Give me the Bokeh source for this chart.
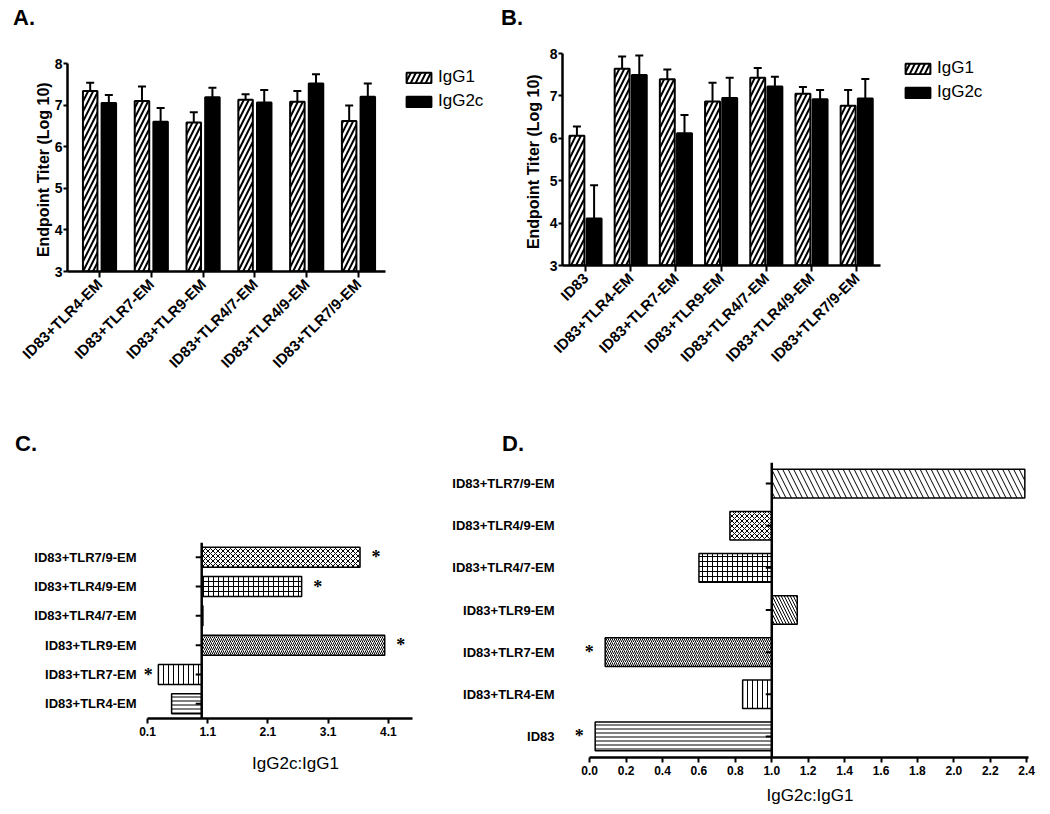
import math
from bokeh.plotting import figure
from bokeh.models import (ColumnDataSource, FactorRange, Range1d, FixedTicker, Legend,
                          LegendItem, LabelSet, Span, NumeralTickFormatter, Div)
from bokeh.transform import dodge
from bokeh.layouts import column, row
from bokeh.core.properties import field
from bokeh.embed import file_html
from bokeh.resources import INLINE

FONT = "Liberation Sans"

# ---------------- data ----------------
a_groups = ["ID83+TLR4-EM", "ID83+TLR7-EM", "ID83+TLR9-EM", "ID83+TLR4/7-EM",
            "ID83+TLR4/9-EM", "ID83+TLR7/9-EM"]
a_igg1 = [7.34, 7.10, 6.58, 7.13, 7.08, 6.62]
a_igg1_err = [0.20, 0.35, 0.25, 0.13, 0.26, 0.37]
a_igg2c = [7.05, 6.60, 7.19, 7.06, 7.52, 7.20]
a_igg2c_err = [0.19, 0.33, 0.23, 0.30, 0.22, 0.32]

b_groups = ["ID83", "ID83+TLR4-EM", "ID83+TLR7-EM", "ID83+TLR9-EM", "ID83+TLR4/7-EM",
            "ID83+TLR4/9-EM", "ID83+TLR7/9-EM"]
b_igg1 = [6.06, 7.64, 7.39, 6.87, 7.43, 7.05, 6.77]
b_igg1_err = [0.22, 0.29, 0.23, 0.44, 0.23, 0.16, 0.37]
b_igg2c = [4.11, 7.49, 6.12, 6.95, 7.22, 6.92, 6.94]
b_igg2c_err = [0.78, 0.46, 0.43, 0.48, 0.23, 0.22, 0.46]

y_ticks = [3, 4, 5, 6, 7, 8]
series_names = ["IgG1", "IgG2c"]

c_groups = ["ID83+TLR4-EM", "ID83+TLR7-EM", "ID83+TLR9-EM", "ID83+TLR4/7-EM",
            "ID83+TLR4/9-EM", "ID83+TLR7/9-EM"]
c_ratio = [0.50, 0.28, 4.04, 1.02, 2.66, 3.63]
c_sig = [False, True, True, False, True, True]
c_ticks = [0.1, 1.1, 2.1, 3.1, 4.1]
c_axis_end = 4.5

d_groups = ["ID83", "ID83+TLR4-EM", "ID83+TLR7-EM", "ID83+TLR9-EM", "ID83+TLR4/7-EM",
            "ID83+TLR4/9-EM", "ID83+TLR7/9-EM"]
d_ratio = [0.03, 0.84, 0.085, 1.14, 0.60, 0.77, 2.39]
d_sig = [True, False, True, False, False, False, False]
d_ticks = [0.0, 0.2, 0.4, 0.6, 0.8, 1.0, 1.2, 1.4, 1.6, 1.8, 2.0, 2.2, 2.4]
d_axis_end = 2.41

ratio_base = 1.0

# ---------------- styles ----------------
c_hatch = ["-", "|", "/", "+", "+", "x"]
c_hatch_scale = [4, 5, 4, 5, 5, 5]
d_hatch = ["-", "|", "/", "\\", "+", "x", "\\"]
d_hatch_scale = [4, 5, 4, 6, 5, 5, 11]


def style_common(p):
    p.grid.visible = False
    p.outline_line_color = None
    p.background_fill_color = "white"
    p.border_fill_color = "white"


def letter_div(text, width, height, pad_left, pad_top):
    html = ('<div style="padding:%dpx 0 0 %dpx; font-family:\'Liberation Sans\'; '
            'font-size:22px; font-weight:bold; line-height:22px; color:black; '
            'white-space:nowrap;">%s</div>' % (pad_top, pad_left, text))
    return Div(text=html, width=width, height=height, margin=0)


def bar_panel(groups, v1, e1, v2, e2, width, height, mb, xr, axis_bounds, off, bw, leg_xy,
              ylabel, title_standoff):
    xs = list(range(len(groups)))
    src = ColumnDataSource(dict(
        x=xs, v1=v1, u1=[a + b for a, b in zip(v1, e1)],
        v2=v2, u2=[a + b for a, b in zip(v2, e2)]))
    p = figure(x_range=Range1d(*xr), y_range=Range1d(y_ticks[0], y_ticks[-1]),
               width=width, height=height, output_backend="svg", toolbar_location=None,
               min_border_left=mb[0], min_border_right=mb[1], min_border_top=mb[2],
               min_border_bottom=mb[3])
    style_common(p)
    x1 = dodge("x", -off)
    x2 = dodge("x", off)
    r1 = p.vbar(x=x1, top="v1", bottom=y_ticks[0], width=bw, source=src,
                fill_color="white", line_color="black", line_width=2,
                hatch_pattern="/", hatch_scale=10, hatch_weight=2, hatch_color="black")
    r2 = p.vbar(x=x2, top="v2", bottom=y_ticks[0], width=bw, source=src,
                fill_color="black", line_color="black", line_width=2)
    for xx, lo, hi in ((x1, "v1", "u1"), (x2, "v2", "u2")):
        p.segment(x0=xx, y0=lo, x1=xx, y1=hi, source=src, line_color="black", line_width=2)
        p.scatter(x=xx, y=hi, marker="dash", size=8, source=src, line_color="black",
                  line_width=2)
    p.yaxis.ticker = FixedTicker(ticks=y_ticks)
    p.xaxis.ticker = FixedTicker(ticks=xs)
    p.xaxis.major_label_overrides = {i: g for i, g in zip(xs, groups)}
    p.xaxis.bounds = axis_bounds
    for ax in (p.xaxis[0], p.yaxis[0]):
        ax.axis_line_width = 2.5
        ax.axis_line_color = "black"
        ax.major_tick_line_width = 2
        ax.major_tick_line_color = "black"
        ax.minor_tick_line_color = None
        ax.major_tick_in = 0
        ax.major_label_text_font = FONT
        ax.major_label_text_font_style = "bold"
        ax.major_label_text_color = "black"
    p.yaxis.major_tick_out = 4
    p.yaxis.major_label_standoff = 1
    p.yaxis.major_label_text_font_size = "14px"
    p.xaxis.major_tick_out = 6
    p.xaxis.major_label_text_font_size = "15px"
    p.xaxis.major_label_orientation = math.pi / 4
    p.xaxis.major_label_standoff = 4
    p.yaxis.axis_label = ylabel
    p.yaxis.axis_label_text_font = FONT
    p.yaxis.axis_label_text_font_size = "16px"
    p.yaxis.axis_label_text_font_style = "bold"
    p.yaxis.axis_label_text_color = "black"
    p.yaxis.axis_label_standoff = title_standoff
    legend = Legend(items=[LegendItem(label=series_names[0], renderers=[r1]),
                           LegendItem(label=series_names[1], renderers=[r2])],
                    location=leg_xy, border_line_color=None, background_fill_alpha=0,
                    padding=0, margin=0, spacing=4, glyph_width=31, glyph_height=13,
                    label_height=20, label_standoff=4, label_text_font=FONT,
                    label_text_font_size="17px", label_text_color="black")
    p.add_layout(legend, "center")
    return p


def ratio_panel(groups, ratios, sig, hatches, scales, xr, ticks, axis_bounds, width, height,
                mb, label_standoff, star_offsets, title_standoff):
    src = ColumnDataSource(dict(g=groups, r=ratios, hatch=hatches, hs=scales))
    p = figure(y_range=FactorRange(*groups), x_range=Range1d(*xr),
               width=width, height=height, output_backend="svg", toolbar_location=None,
               min_border_left=mb[0], min_border_right=mb[1], min_border_top=mb[2],
               min_border_bottom=mb[3])
    style_common(p)
    p.hbar(y="g", left=ratio_base, right="r", height=0.68, source=src,
           fill_color="white", line_color="black", line_width=1.5,
           hatch_pattern=field("hatch"), hatch_scale=field("hs"), hatch_weight=1,
           hatch_color="black")
    p.add_layout(Span(location=ratio_base, dimension="height", line_color="black",
                      line_width=2.5))
    p.ray(x=[ratio_base] * len(groups), y=groups, length=6, length_units="screen",
          angle=math.pi, line_color="black", line_width=2)
    # significance stars
    sx, sy, so = [], [], []
    for g, r, s in zip(groups, ratios, sig):
        if s:
            sx.append(r)
            sy.append(g)
            so.append(star_offsets[0] if r > ratio_base else star_offsets[1])
    ssrc = ColumnDataSource(dict(x=sx, y=sy, o=so, t=["*"] * len(sx)))
    p.add_layout(LabelSet(x="x", y="y", text="t", x_offset="o", source=ssrc,
                          text_font=FONT, text_font_size="18px", text_font_style="bold",
                          text_align="center", text_baseline="middle", text_color="black"))
    p.xaxis.ticker = FixedTicker(ticks=ticks)
    p.xaxis.formatter = NumeralTickFormatter(format="0.0")
    xa = p.xaxis[0]
    xa.bounds = axis_bounds
    xa.axis_line_width = 2.5
    xa.axis_line_color = "black"
    xa.major_tick_line_width = 2
    xa.major_tick_line_color = "black"
    xa.minor_tick_line_color = None
    xa.major_tick_in = 0
    xa.major_tick_out = 5
    xa.major_label_standoff = 3
    xa.major_label_text_font = FONT
    xa.major_label_text_font_style = "bold"
    xa.major_label_text_font_size = "12px"
    xa.major_label_text_color = "black"
    xa.axis_label = "IgG2c:IgG1"
    xa.axis_label_text_font = FONT
    xa.axis_label_text_font_size = "17px"
    xa.axis_label_text_font_style = "normal"
    xa.axis_label_text_color = "black"
    xa.axis_label_standoff = title_standoff
    ya = p.yaxis[0]
    ya.axis_line_color = None
    ya.major_tick_line_color = None
    ya.minor_tick_line_color = None
    ya.major_tick_in = 0
    ya.major_tick_out = 0
    ya.major_label_standoff = label_standoff
    ya.major_label_text_font = FONT
    ya.major_label_text_font_style = "bold"
    ya.major_label_text_font_size = "13px"
    ya.major_label_text_color = "black"
    return p


pA = bar_panel(a_groups, a_igg1, a_igg1_err, a_igg2c, a_igg2c_err,
               width=490, height=378, mb=(67, 2, 33, 137), xr=(-0.618, 7.51),
               axis_bounds=(-0.618, 5.52), off=0.18, bw=0.28,
               leg_xy=(336, 160), ylabel="Endpoint Titer  (Log 10)", title_standoff=0)
pB = bar_panel(b_groups, b_igg1, b_igg1_err, b_igg2c, b_igg2c_err,
               width=558, height=378, mb=(72, 58, 23, 143), xr=(-0.509, 8.96),
               axis_bounds=(-0.509, 6.53), off=0.19, bw=0.33,
               leg_xy=(340, 163), ylabel="Endpoint  Titer (Log 10)", title_standoff=5)
pC = ratio_panel(c_groups, c_ratio, c_sig, c_hatch, c_hatch_scale, (0.0, 5.116),
                 c_ticks, (c_ticks[0], c_axis_end),
                 width=449, height=354, mb=(141, 0, 84, 94), label_standoff=5,
                 star_offsets=(16, -10), title_standoff=15)
pD = ratio_panel(d_groups, d_ratio, d_sig, d_hatch, d_hatch_scale, (-0.1, 2.52),
                 d_ticks, (d_ticks[0], d_axis_end),
                 width=599, height=354, mb=(121, 0, 4, 55), label_standoff=17,
                 star_offsets=(16, -16), title_standoff=8)

colA = column(letter_div("A.", 490, 30, 13, 7), pA)
colB = column(letter_div("B.", 558, 30, 11, 7), pB)
colC = column(letter_div("C.", 449, 50, 15, 25), pC)
colD = column(letter_div("D.", 599, 50, 53, 25), pD)

layout = column(row(colA, colB), row(colC, colD))
open("out.html", "w").write(file_html(layout, INLINE))
